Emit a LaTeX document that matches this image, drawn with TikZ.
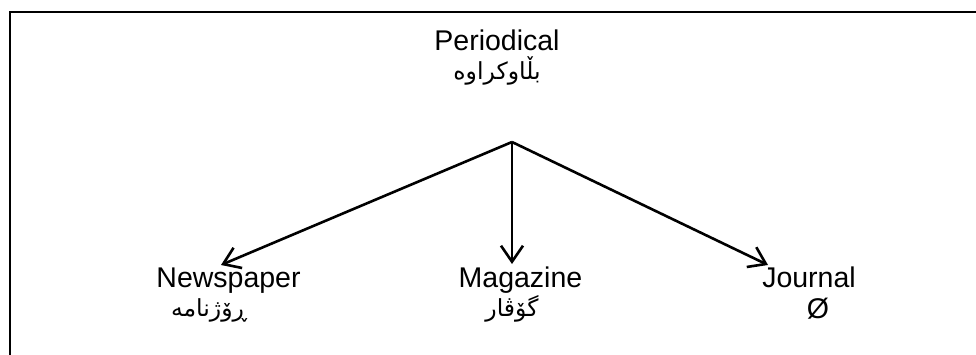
\documentclass[tikz,border=0pt]{standalone}
\usepackage{fontspec}
\setmainfont{Liberation Sans}
\newfontfamily\arabicfont[Script=Arabic]{DejaVu Sans}
\TeXXeTstate=1
\usetikzlibrary{arrows.meta}
\tikzset{
  lat/.style={inner sep=0pt, anchor=base, font=\fontsize{28.5}{30}\selectfont},
  ara/.style={inner sep=0pt, anchor=base, font=\arabicfont\fontsize{23.5}{25}\selectfont},
  link/.style={line width=2.6pt, -{Straight Barb[length=16pt,width=22pt,line width=2.6pt]}},
  frame/.style={line width=2.8pt}
}
\begin{document}
\begin{tikzpicture}[x=1pt,y=-1pt]
\useasboundingbox (0,0) rectangle (976,355);
\draw[frame] (10,356) -- (10,12) -- (977,12);
\node[lat] (per) at (497,51) {Periodical};
\node[ara] (perk) at (497,80) {\beginR بڵاوکراوە\endR};
\node[lat] (news) at (228.5,287) {Newspaper};
\node[ara] (newsk) at (209,316) {\beginR ڕۆژنامە\endR};
\node[lat] (mag) at (520.5,287) {Magazine};
\node[ara] (magk) at (512,316) {\beginR گۆڤار\endR};
\node[lat] (jour) at (809,287) {Journal};
\node[lat] (jourk) at (818,318) {Ø};
\coordinate (hub) at (512,142);
\coordinate (tn) at (221,265);
\coordinate (tm) at (512,264);
\coordinate (tj) at (768,265);
\draw[link] (hub) -- (tn);
\draw[link] (hub) -- (tm);
\draw[link] (hub) -- (tj);
\end{tikzpicture}
\end{document}
